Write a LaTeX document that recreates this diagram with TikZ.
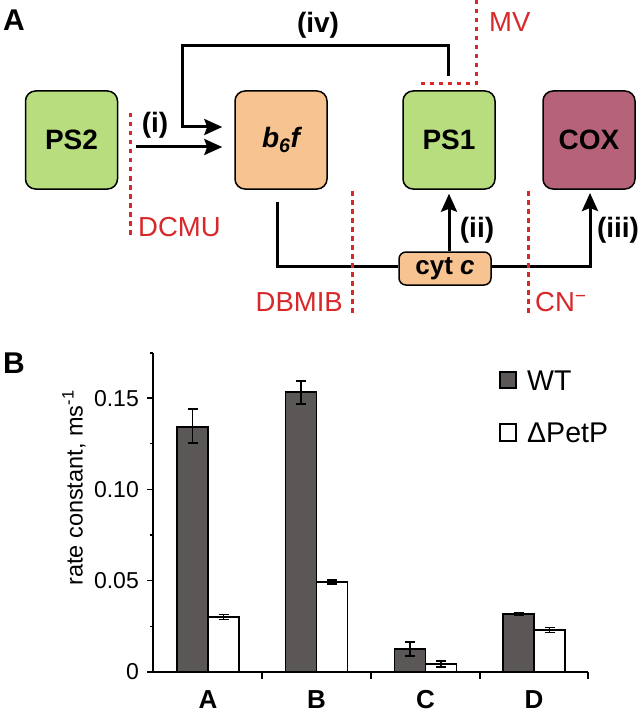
\documentclass[tikz,border=0pt]{standalone}
\usepackage{fontspec}
\setmainfont{Liberation Sans}
\usetikzlibrary{arrows.meta,calc}
\definecolor{psgreen}{HTML}{B7DD7F}
\definecolor{orangebox}{HTML}{F7C391}
\definecolor{coxcol}{HTML}{B6637A}
\definecolor{inhred}{HTML}{D7282A}
\definecolor{bardark}{HTML}{5B5756}
\begin{document}
\begin{tikzpicture}[x=1pt,y=-1pt,
  box/.style={draw=black,line width=1.5pt,rounded corners=10pt,minimum width=92pt,minimum height=98pt,inner sep=0pt,font=\fontsize{28}{28}\selectfont\bfseries},
  smallbox/.style={box,minimum height=33pt,rounded corners=7pt,font=\fontsize{26}{26}\selectfont\bfseries},
  flow/.style={line width=3pt,line cap=butt},
  flowarr/.style={flow,-{Stealth[length=18pt,width=16pt,inset=3pt]}},
  inhib/.style={inhred,line width=3pt,dash pattern=on 4.5pt off 4.5pt},
  inhlabel/.style={text=inhred,font=\fontsize{27.5}{27.5}\selectfont,inner sep=0pt},
  roman/.style={font=\fontsize{28}{28}\selectfont\bfseries,inner sep=0pt},
  panel/.style={font=\fontsize{30}{30}\selectfont\bfseries,inner sep=0pt},
  axisline/.style={line width=1.4pt},
  wtbar/.style={draw=black,line width=1.3pt,fill=bardark},
  dpbar/.style={draw=black,line width=1.3pt,fill=white},
  errbar/.style={line width=1.5pt},
  ticklab/.style={font=\fontsize{23}{23}\selectfont,inner sep=0pt,anchor=east},
  catlab/.style={font=\fontsize{26}{26}\selectfont\bfseries,inner sep=0pt},
  leglab/.style={font=\fontsize{28.5}{28.5}\selectfont,inner sep=0pt,anchor=west}
]
\useasboundingbox (0,0) rectangle (642,714);

% ---------- Panel A ----------
\node[panel] (labA) at (14,20) {A};

\node[box,fill=psgreen] (PS2) at (71.5,140) {PS2};
\node[box,fill=orangebox] (b6f) at (281,140) {\itshape b\textsubscript{6}f};
\node[box,fill=psgreen] (PS1) at (449,140) {PS1};
\node[box,fill=coxcol] (COX) at (589,140) {COX};
\node[smallbox,fill=orangebox] (cytc) at (445,268.5) {cyt \textit{c}};

% connectors
\coordinate (ivstart) at (448,76);
\coordinate (ivcorner) at (182,46);
\draw[flowarr] (ivstart) |- (ivcorner) |- ([xshift=-12pt,yshift=13pt]b6f.west);
\coordinate (istart) at (136,147);
\draw[flowarr] (istart) -- ([xshift=-12pt,yshift=-7pt]b6f.west);
\coordinate (b6fout) at (277,202);
\draw[flow] (b6fout) |- ([yshift=2.5pt]cytc.west);
\draw[flowarr] ([xshift=4pt]cytc.north) -- ([xshift=4pt,yshift=-4pt]cytc.north |- PS1.south);
\coordinate (coxin) at (590,193);
\draw[flowarr] ([yshift=2.5pt]cytc.east) -| (coxin);

% labels
\node[roman] (li) at (155,125) {(i)};
\node[roman] (liv) at (318,25) {(iv)};
\node[roman] (lii) at (477,230) {(ii)};
\node[roman] (liii) at (618,230) {(iii)};

% inhibitors
\coordinate (dcmuT) at (130,113);
\coordinate (dcmuB) at (130,236);
\draw[inhib] (dcmuT) -- (dcmuB);
\node[inhlabel,anchor=west] (dcmu) at (138,227) {DCMU};

\coordinate (dbT) at (352,191);
\coordinate (dbB) at (352,314);
\draw[inhib] (dbT) -- (dbB);
\node[inhlabel,anchor=east] (dbmib) at (343,302) {DBMIB};

\coordinate (cnT) at (528,191);
\coordinate (cnB) at (528,314);
\draw[inhib] (cnT) -- (cnB);
\node[inhlabel,anchor=west] (cn) at (535,302) {CN\textsuperscript{−}};

\coordinate (mvT) at (476,0);
\coordinate (mvC) at (476,84);
\coordinate (mvL) at (418,84);
\draw[inhib] (mvT) -- (mvC) -- (mvL);
\node[inhlabel,anchor=west] (mv) at (489,22) {MV};

% ---------- Panel B ----------
\node[panel] (labB) at (14,363) {B};

% axes
\draw[axisline] (153,353) -- (153,672) -- (588,672);
\foreach \yy/\lab in {672/0, 580.7/0.05, 489.4/0.10, 398.1/0.15}{
  \draw[axisline] (147,\yy) -- (153,\yy);
  \node[ticklab] at (139,\yy) {\lab};
}
\foreach \yy in {353, 443.7, 535.0, 626.3}{
  \draw[axisline] (150,\yy) -- (153,\yy);
}
\foreach \xx in {262,371,480,588}{
  \draw[axisline] (\xx,672) -- (\xx,679);
}
\node[rotate=90,font=\fontsize{23.5}{23.5}\selectfont,inner sep=0pt] (ylab) at (74,488) {rate constant, ms\textsuperscript{-1}};

% bars
\foreach \cx/\wt/\wlo/\whi/\dp/\dlo/\dhi in {
  208/427/409/443/617/614.5/619.5,
  316.5/392/381/404/582/580/584,
  425.5/649/642/656/664/661/667,
  534/614/613/615/630/627.5/632.5}{
  \draw[wtbar] (\cx-31,672) rectangle (\cx,\wt);
  \draw[dpbar] (\cx,672) rectangle (\cx+31,\dp);
  \draw[errbar] (\cx-15.5,\wlo) -- (\cx-15.5,\whi)
    (\cx-20.5,\wlo) -- (\cx-10.5,\wlo) (\cx-20.5,\whi) -- (\cx-10.5,\whi);
  \draw[errbar] (\cx+15.5,\dlo) -- (\cx+15.5,\dhi)
    (\cx+10.5,\dlo) -- (\cx+20.5,\dlo) (\cx+10.5,\dhi) -- (\cx+20.5,\dhi);
}

% category labels
\node[catlab] (cA) at (208,700) {A};
\node[catlab] (cB) at (316.5,700) {B};
\node[catlab] (cC) at (425.5,700) {C};
\node[catlab] (cD) at (534,700) {D};

% legend
\draw[wtbar] (500,372) rectangle (516,388);
\node[leglab] (lwt) at (527,381) {WT};
\draw[dpbar] (500,424) rectangle (516,441);
\node[leglab] (ldp) at (527,433) {ΔPetP};
\end{tikzpicture}
\end{document}
